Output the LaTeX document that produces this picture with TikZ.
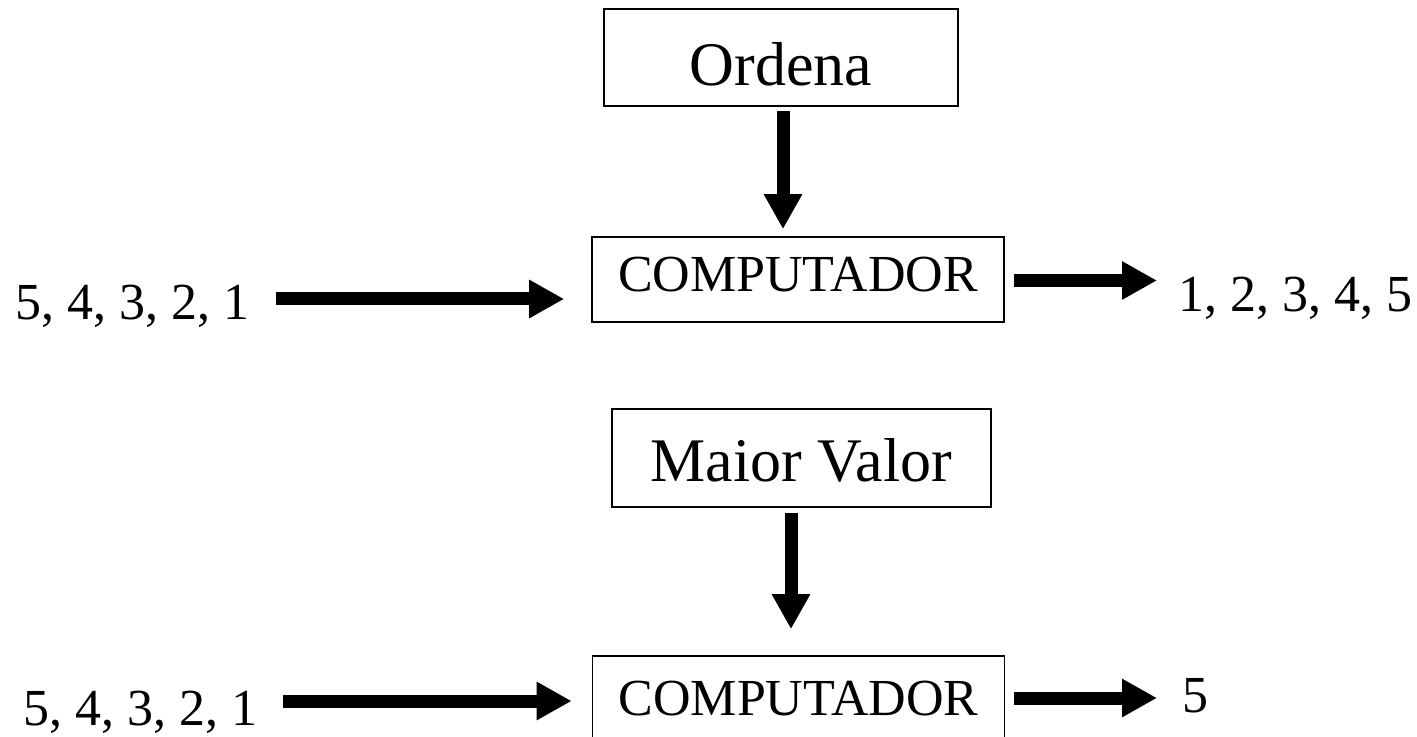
\documentclass[tikz,border=0pt]{standalone}
\usepackage{fontspec}
\setmainfont{Liberation Serif}
\usetikzlibrary{arrows.meta}

\begin{document}
\begin{tikzpicture}[x=0.5pt, y=-0.5pt,
  box/.style={draw, line width=0.8pt, inner sep=0pt, align=center},
  titlebox/.style={box, font=\fontsize{31}{36}\selectfont},
  compbox/.style={box, font=\fontsize{26}{30}\selectfont,
                  minimum width=206pt, minimum height=42.5pt},
  seq/.style={inner sep=0pt, font=\fontsize{26}{30}\selectfont},
  bigarrow/.style={line width=6.5pt, -{Triangle[length=17.5pt, width=18pt]}}]

\clip (0,0) rectangle (1417,737);
\fill[white] (0,0) rectangle (1417,737);

% --- upper chain: sorting ---
\node[titlebox, minimum width=177pt, minimum height=48.5pt, text height=28.5pt]
  (ordena) at (781,57.5) {Ordena};
\node[compbox, text depth=5.7pt] (comp1) at (798,279.5) {COMPUTADOR};
\node[seq, anchor=base west] (in1) at (15,320) {5, 4, 3, 2, 1};
\node[seq, anchor=base west] (out1) at (1178,312) {1, 2, 3, 4, 5};

\draw[bigarrow] ([xshift=1pt,yshift=-2pt]ordena.south)
  -- ([xshift=-7.5pt,yshift=3.5pt]comp1.north);
\draw[bigarrow] ([xshift=13pt,yshift=10.5pt]in1.base east)
  -- ([xshift=-13.5pt,yshift=-9.75pt]comp1.west);
\draw[bigarrow] ([xshift=4.5pt,yshift=-0.5pt]comp1.east)
  -- ([xshift=-10.5pt,yshift=15.75pt]out1.base west);

% --- lower chain: largest value ---
\node[titlebox, minimum width=189.5pt, minimum height=49pt, text height=24pt]
  (maior) at (801.5,458) {Maior Valor};
\node[compbox] (comp2) at (798.5,698.5) {COMPUTADOR};
\node[seq, anchor=base west] (in2) at (23,725) {5, 4, 3, 2, 1};
\node[seq, anchor=base west] (out2) at (1182,712) {5};

\draw[bigarrow] ([xshift=-5.25pt,yshift=-2.5pt]maior.south)
  -- ([xshift=-3.75pt,yshift=13pt]comp2.north);
\draw[bigarrow] ([xshift=12.5pt,yshift=12pt]in2.base east)
  -- ([xshift=-10pt,yshift=-1.25pt]comp2.west);
\draw[bigarrow] ([xshift=4.5pt,yshift=0.25pt]comp2.east)
  -- ([xshift=-12.5pt,yshift=7pt]out2.base west);
\end{tikzpicture}
\end{document}
